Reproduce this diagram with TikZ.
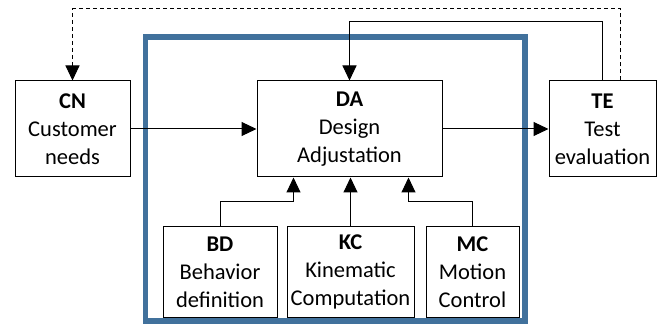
\documentclass[tikz,border=0pt]{standalone}
\usepackage{fontspec}
\setmainfont{Carlito}
\usetikzlibrary{arrows.meta,calc}
\definecolor{frameblue}{RGB}{65,113,156}
\begin{document}
\begin{tikzpicture}[x=1pt,y=-1pt,
  blockbox/.style={draw=black,line width=1pt,fill=white,inner sep=0pt,
    align=center,font=\fontsize{22.5}{28}\selectfont},
  arr/.style={line width=1pt,-{Triangle[length=15pt,width=14pt]}},
  dasharr/.style={arr,dash pattern=on 4pt off 3pt}]
\useasboundingbox (0,0) rectangle (662,326);

% subsystem frame
\draw[frameblue,line width=5.5pt] (145.5,37) rectangle (525,321);

% top-level blocks
\node[blockbox,minimum width=115pt,minimum height=96pt] (CN) at (72.5,129)
  {\textbf{CN}\\Customer\\needs};
\node[blockbox,minimum width=185pt,minimum height=96pt] (DA) at (349.5,129)
  {\textbf{DA}\\Design\\Adjustation};
\node[blockbox,minimum width=107pt,minimum height=96pt] (TE) at (602.5,129)
  {\textbf{TE}\\Test\\evaluation};

% inner blocks
\node[blockbox,minimum width=114pt,minimum height=90pt] (BD) at (220,272)
  {\textbf{BD}\\Behavior\\definition};
\node[blockbox,minimum width=127pt,minimum height=90pt] (KC) at (350.5,272)
  {\textbf{KC}\\Kinematic\\Computation};
\node[blockbox,minimum width=93pt,minimum height=90pt] (MC) at (472.5,272)
  {\textbf{MC}\\Motion\\Control};

% routing levels
\coordinate (solidtop) at (0,22);
\coordinate (dashtop) at (0,9);
\coordinate (feedlevel) at (0,202);
\coordinate (teout) at ($(TE.north)+(17.5,0)$);
\coordinate (bdin) at ($(DA.south west)+(37,0)$);
\coordinate (mcin) at ($(DA.south west)+(152,0)$);

% main flow
\draw[arr] (CN.east) -- (DA.west);
\draw[arr] (DA.east) -- (TE.west);

% feedback loops
\draw[arr] (TE.north) -- (TE.north |- solidtop) -| (DA.north);
\draw[dasharr] (teout) -- (teout |- dashtop) -| (CN.north);

% inner contributions
\draw[arr] (BD.north) -- (BD.north |- feedlevel) -| (bdin);
\draw[arr] (KC.north) -- (KC.north |- DA.south);
\draw[arr] (MC.north) -- (MC.north |- feedlevel) -| (mcin);
\end{tikzpicture}
\end{document}
